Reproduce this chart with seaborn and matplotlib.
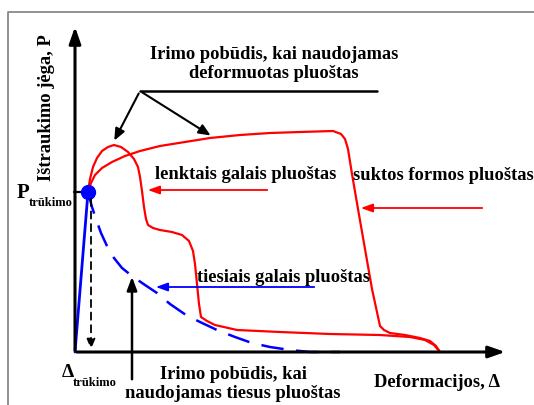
import numpy as np
import seaborn as sns
import matplotlib.pyplot as plt

sns.set_style("white")
plt.rcParams['font.family'] = ['Liberation Serif', 'DejaVu Serif']
plt.rcParams['text.color'] = 'black'

# deformation (x) / pull-out force (y), schematic units
break_x, break_y = 13, 160

linear_x = [0, 13]
linear_y = [0, 160]

straight_x = [13, 17, 21, 26, 32, 39, 47, 57, 70, 82, 95, 111, 125, 142, 160, 177, 195, 215, 235, 265]
straight_y = [160, 145, 133, 119, 106, 94, 84, 76, 67, 59, 48, 37, 30, 22, 15, 9, 5, 2, 0, 0]

bent_x = [13, 15, 18, 22, 27, 33, 39, 46, 53, 59, 63, 65, 67, 69, 71, 73, 78, 85, 97, 107, 114, 118,
          120, 122, 124, 126, 132, 140, 162, 205, 255, 305, 335, 350, 359, 365]
bent_y = [160, 173, 185, 194, 201, 205, 207, 205, 200, 193, 185, 175, 161, 145, 133, 127, 124, 122, 120,
          117, 111, 101, 88, 68, 48, 35, 31, 27, 22, 20, 18, 17, 15, 12, 7, 0]

twisted_x = [13, 16, 20, 27, 37, 50, 65, 85, 110, 135, 165, 195, 225, 258, 266, 270, 273, 277, 283,
             290, 297, 305, 309, 315, 330, 345, 355, 361, 365]
twisted_y = [160, 169, 177, 184, 190, 196, 201, 206, 210, 214, 217, 219, 220, 221, 218, 213, 203, 178,
             143, 103, 63, 26, 22, 19, 17, 14, 11, 6, 0]

fig = plt.figure(figsize=(5.34, 4.06), dpi=100)
ax = fig.add_axes([0, 0, 1, 1])
ax.set_xlim(-75, 459)
ax.set_ylim(-53, 353)
ax.axis('off')

# outer frame (left + top)
ax.plot([-67, -67, 470], [-60, 340, 340], color='#7f7f7f', lw=1.2, clip_on=False)

# axes with arrows
ax.annotate('', xy=(0, 328), xytext=(0, -1),
            arrowprops=dict(arrowstyle='-|>,head_length=1.0,head_width=0.35', color='black', lw=2.2))
ax.annotate('', xy=(433, 0), xytext=(-1, 0),
            arrowprops=dict(arrowstyle='-|>,head_length=1.0,head_width=0.35', color='black', lw=2.2))

# curves
sns.lineplot(x=linear_x, y=linear_y, sort=False, color='blue', lw=2, ax=ax)
sns.lineplot(x=straight_x, y=straight_y, sort=False, color='blue', lw=1.8, ax=ax,
             dashes=False).lines[-1].set_dashes([9, 5])
sns.lineplot(x=bent_x, y=bent_y, sort=False, color='red', lw=1.6, ax=ax)
sns.lineplot(x=twisted_x, y=twisted_y, sort=False, color='red', lw=1.6, ax=ax)

# break point
ax.plot([-1, break_x], [break_y, break_y], color='black', lw=1.6)
ax.plot(break_x, break_y, 'o', color='blue', ms=10)
ax.annotate('', xy=(16, 0), xytext=(16, 156),
            arrowprops=dict(arrowstyle='-|>,head_length=0.6,head_width=0.25', color='black',
                            lw=1.3, linestyle=(0, (4, 3))))

# annotations
fs = 13.3
ax.plot([65, 302], [261, 261], color='black', lw=1.8)
for tx, ty in [(38, 209), (138, 215)]:
    ax.annotate('', xy=(tx, ty), xytext=(65, 261),
                arrowprops=dict(arrowstyle='-|>,head_length=0.7,head_width=0.3', color='black', lw=1.5))
ax.text(199, 289, 'Irimo pobūdis, kai naudojamas\ndeformuotas pluoštas', ha='center', va='center',
        fontsize=fs, fontweight='bold', linespacing=1.2)

ax.annotate('', xy=(70, 162), xytext=(195, 162),
            arrowprops=dict(arrowstyle='-|>,head_length=0.7,head_width=0.25', color='red', lw=1.3))
ax.text(80, 178, 'lenktais galais pluoštas', ha='left', va='center', fontsize=fs, fontweight='bold')

ax.annotate('', xy=(283, 144), xytext=(410, 144),
            arrowprops=dict(arrowstyle='-|>,head_length=0.7,head_width=0.25', color='red', lw=1.3))
ax.text(278, 177, 'suktos formos pluoštas', ha='left', va='center', fontsize=fs, fontweight='bold')

ax.annotate('', xy=(78, 65), xytext=(242, 65),
            arrowprops=dict(arrowstyle='-|>,head_length=0.7,head_width=0.25', color='blue', lw=1.3))
ax.text(122, 76, 'tiesiais galais pluoštas', ha='left', va='center', fontsize=fs, fontweight='bold')

ax.annotate('', xy=(57, 78), xytext=(57, -30),
            arrowprops=dict(arrowstyle='-|>,head_length=0.8,head_width=0.3', color='black', lw=1.8),
            annotation_clip=False)
ax.text(158, -31, 'Irimo pobūdis, kai\nnaudojamas tiesus pluoštas', ha='center', va='center',
        fontsize=fs, fontweight='bold', linespacing=1.15)

# axis labels
ax.text(362, -30, 'Deformacijos, Δ', ha='center', va='center', fontsize=fs, fontweight='bold')
ax.text(-28, 245, 'Ištraukimo jėga, P', ha='center', va='center', rotation=90,
        fontsize=fs, fontweight='bold')
ax.text(-58, 160, 'P', ha='left', va='center', fontsize=15, fontweight='bold')
ax.text(-46, 150, 'trūkimo', ha='left', va='center', fontsize=9, fontweight='bold')
ax.text(-13, -20, 'Δ', ha='left', va='center', fontsize=14, fontweight='bold')
ax.text(-2, -30, 'trūkimo', ha='left', va='center', fontsize=9, fontweight='bold')

fig.savefig('out.png', dpi=100)
